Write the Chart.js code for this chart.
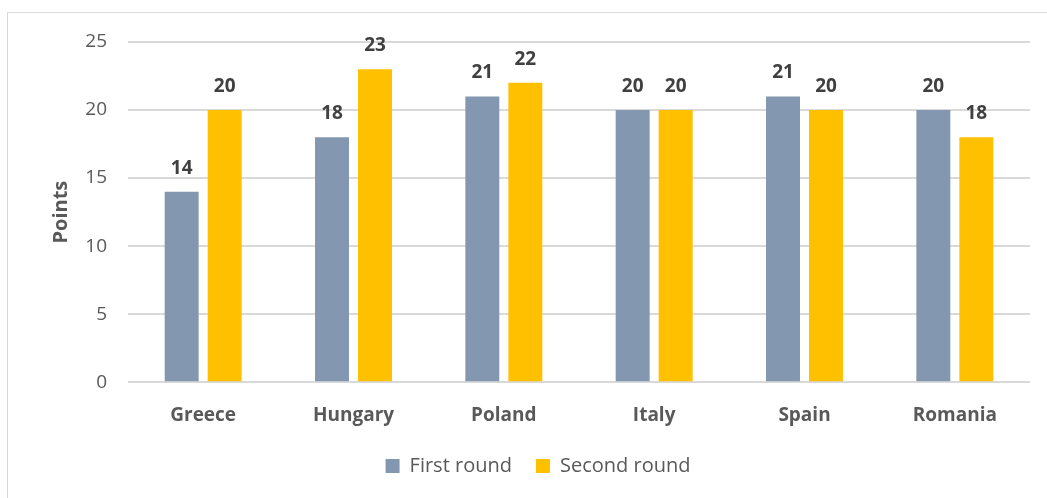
<!DOCTYPE html>
<html>
<head>
<meta charset="utf-8">
<script src="https://cdn.jsdelivr.net/npm/chart.js@4/dist/chart.umd.min.js"></script>
<style>
  html, body { margin: 0; padding: 0; background: #fff; }
  #frame {
    position: absolute; left: 7px; top: 12px; width: 1100px; height: 600px;
    border-left: 1px solid #d9d9d9; border-top: 1px solid #d9d9d9;
  }
  #wrap { position: absolute; left: 0; top: 0; width: 1047px; height: 498px; }
</style>
</head>
<body>
<div id="frame"></div>
<div id="wrap"><canvas id="myChart" width="1047" height="498"></canvas></div>
<script>
// categories and values
const countries = ['Greece', 'Hungary', 'Poland', 'Italy', 'Spain', 'Romania'];
const firstRound = [14, 18, 21, 20, 21, 20];
const secondRound = [20, 23, 22, 20, 20, 18];
const yTicks = [0, 5, 10, 15, 20, 25];

const fontFamily = '"Open Sans", sans-serif';
const textGray = '#595959';

// draws the bold value above each bar
const barLabels = {
    id: 'barLabels',
    afterDatasetsDraw(chart) {
        const ctx = chart.ctx;
        ctx.save();
        ctx.font = 'bold 19px ' + fontFamily;
        ctx.fillStyle = '#404040';
        ctx.textAlign = 'center';
        ctx.textBaseline = 'alphabetic';
        chart.data.datasets.forEach(function(ds, i) {
            chart.getDatasetMeta(i).data.forEach(function(bar, j) {
                ctx.fillText(ds.data[j], bar.x, bar.y - 18);
            });
        });
        ctx.restore();
    }
};

const ctx = document.getElementById('myChart').getContext('2d');
const myChart = new Chart(ctx, {
    type: 'bar',
    data: {
        labels: countries,
        datasets: [{
            label: 'First round',
            data: firstRound,
            backgroundColor: '#8497B0'
        }, {
            label: 'Second round',
            data: secondRound,
            backgroundColor: '#FFC000'
        }]
    },
    options: {
        responsive: false,
        animation: false,
        layout: { padding: { left: 46, right: 17, top: 42, bottom: 12 } },
        datasets: {
            bar: { barPercentage: 0.79, categoryPercentage: 0.572 }
        },
        plugins: {
            legend: {
                position: 'bottom',
                labels: {
                    boxWidth: 14, boxHeight: 14, padding: 24,
                    color: textGray,
                    font: { family: fontFamily, size: 20 }
                }
            },
            tooltip: { enabled: false }
        },
        scales: {
            x: {
                grid: { display: false },
                border: { display: false },
                afterFit: function(scale) {
                    scale.height -= 9;
                },
                ticks: {
                    color: textGray,
                    padding: 14,
                    font: { family: fontFamily, size: 19, weight: 'bold' }
                }
            },
            y: {
                min: 0, max: 25,
                afterBuildTicks: function(scale) {
                    scale.ticks = yTicks.map(function(v) { return { value: v }; });
                },
                afterFit: function(scale) {
                    scale.width = 82;
                },
                grid: { color: '#d9d9d9', lineWidth: 2, drawTicks: false },
                border: { display: false },
                ticks: {
                    color: textGray,
                    padding: 21,
                    font: { family: fontFamily, size: 19 }
                },
                title: {
                    display: true,
                    text: 'Points',
                    color: textGray,
                    padding: { top: 3 },
                    font: { family: fontFamily, size: 20, weight: 'bold' }
                }
            }
        }
    },
    plugins: [barLabels]
});
</script>
</body>
</html>
